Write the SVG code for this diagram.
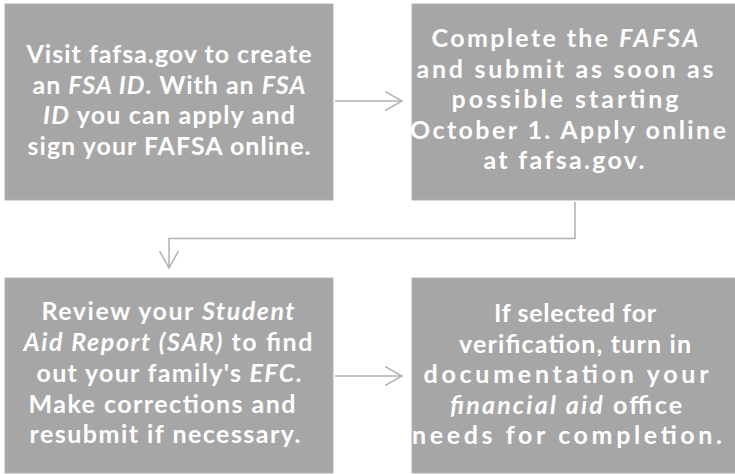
<svg xmlns="http://www.w3.org/2000/svg" width="735" height="474" viewBox="0 0 735 474">
<style>
.box{fill:#a6a6a6;stroke:#b3b3b3;stroke-width:1}
.t{font-family:Lato,"Open Sans",sans-serif;font-weight:bold;font-size:25px;fill:#ffffff;text-anchor:middle}
.i{font-style:italic}
.c{fill:none;stroke:#b0b0b0;stroke-width:1.5}
</style>
<defs>
<marker id="ah" viewBox="0 0 20 20" refX="17" refY="10" markerWidth="20" markerHeight="20" markerUnits="userSpaceOnUse" orient="auto">
<path d="M0,0.5 L17,10 L0,19.5" fill="none" stroke="#b0b0b0" stroke-width="1.5"/>
</marker>
</defs>
<g id="connectors">
<line class="c" x1="335" y1="101" x2="402" y2="101" marker-end="url(#ah)"/>
<polyline class="c" points="575,202 575,238.5 169,238.5 169,268" marker-end="url(#ah)"/>
<line class="c" x1="335" y1="376" x2="402" y2="376" marker-end="url(#ah)"/>
</g>
<g id="n1">
<rect class="box" x="5" y="4" width="328" height="196"/>
<text class="t" x="169" y="63" textLength="285" lengthAdjust="spacing">Visit fafsa.gov to create</text>
<text class="t" x="169" y="93.5" textLength="273" lengthAdjust="spacing">an <tspan class="i">FSA ID</tspan>. With an <tspan class="i">FSA</tspan></text>
<text class="t" x="169" y="124" textLength="252" lengthAdjust="spacing"><tspan class="i">ID</tspan> you can apply and</text>
<text class="t" x="169" y="155" textLength="283" lengthAdjust="spacing">sign your FAFSA online.</text>
</g>
<g id="n2">
<rect class="box" x="412" y="4" width="324" height="196"/>
<text class="t" x="565" y="47" textLength="267" lengthAdjust="spacing"><tspan>Complete the </tspan><tspan class="i">FAFSA</tspan></text>
<text class="t" x="565" y="77.5" textLength="297" lengthAdjust="spacing">and submit as soon as</text>
<text class="t" x="565" y="108" textLength="227" lengthAdjust="spacing">possible starting</text>
<text class="t" x="568" y="138.5" textLength="316" lengthAdjust="spacing">October 1. Apply online</text>
<text class="t" x="564" y="169" textLength="161" lengthAdjust="spacing">at fafsa.gov.</text>
</g>
<g id="n3">
<rect class="box" x="5" y="278" width="328" height="195"/>
<text class="t" x="168" y="320" textLength="253" lengthAdjust="spacing">Review your <tspan class="i">Student</tspan></text>
<text class="t" x="168" y="351" textLength="289" lengthAdjust="spacing"><tspan class="i">Aid Report (SAR)</tspan> to find</text>
<text class="t" x="169" y="382" textLength="265" lengthAdjust="spacing">out your family's <tspan class="i">EFC</tspan>.</text>
<text class="t" x="162" y="412.5" textLength="267" lengthAdjust="spacing">Make corrections and</text>
<text class="t" x="165" y="443" textLength="271" lengthAdjust="spacing">resubmit if necessary.</text>
</g>
<g id="n4">
<rect class="box" x="412" y="278" width="324" height="195"/>
<text class="t" x="575" y="322" textLength="162" lengthAdjust="spacing">If selected for</text>
<text class="t" x="575" y="352.5" textLength="232" lengthAdjust="spacing">verification, turn in</text>
<text class="t" x="566" y="383" textLength="285" lengthAdjust="spacing">documentation your</text>
<text class="t" x="566" y="413.5" textLength="232" lengthAdjust="spacing"><tspan class="i">financial aid</tspan> office</text>
<text class="t" x="567" y="444" textLength="310" lengthAdjust="spacing">needs for completion.</text>
</g>
</svg>
